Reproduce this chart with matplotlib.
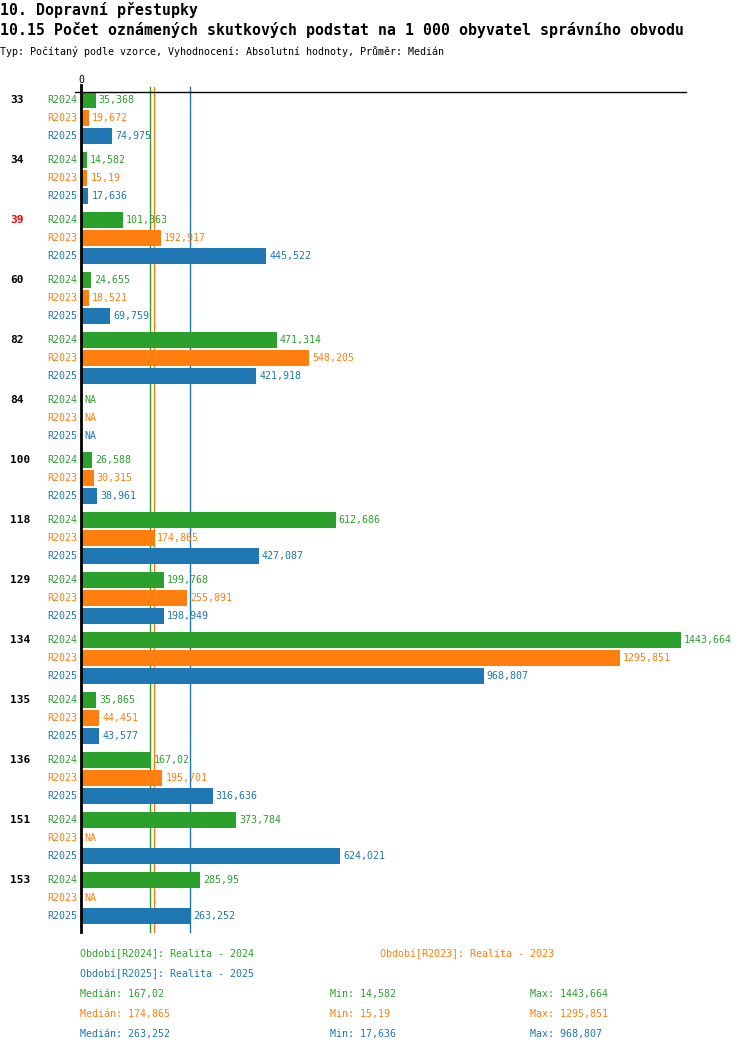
import numpy as np
import matplotlib
matplotlib.use("Agg")
import matplotlib.pyplot as plt
import matplotlib.transforms as mtransforms

# ---- data ----
groups = ["33", "34", "39", "60", "82", "84", "100", "118", "129", "134", "135", "136", "151", "153"]
highlight = ["39"]
series = ["R2024", "R2023", "R2025"]
series_names = ["Realita - 2024", "Realita - 2023", "Realita - 2025"]
r2024 = [35.368, 14.582, 101.363, 24.655, 471.314, np.nan, 26.588, 612.686, 199.768, 1443.664, 35.865, 167.02, 373.784, 285.95]
r2023 = [19.672, 15.19, 192.917, 18.521, 548.205, np.nan, 30.315, 174.865, 255.891, 1295.851, 44.451, 195.701, np.nan, np.nan]
r2025 = [74.975, 17.636, 445.522, 69.759, 421.918, np.nan, 38.961, 427.087, 198.949, 968.807, 43.577, 316.636, 624.021, 263.252]
values = [r2024, r2023, r2025]
colors = ["#2ca02c", "#ff7f0e", "#1f77b4"]

title1 = "10. Dopravní přestupky"
title2 = "10.15 Počet oznámených skutkových podstat na 1 000 obyvatel správního obvodu"
title3 = "Typ: Počítaný podle vzorce, Vyhodnocení: Absolutní hodnoty, Průměr: Medián"

FONT = "DejaVu Sans Mono"
plt.rcParams["font.family"] = [FONT, "DejaVu Sans"]

W, H = 750, 1052
fig = plt.figure(figsize=(W / 100, H / 100), dpi=100)

def fx(x):
    return x / W

def fy(y):
    return 1 - y / H

def fmt(v):
    return repr(float(v)).rstrip("0").rstrip(".").replace(".", ",")

# axes area in pixels
left, right, top, bottom = 81, 685, 92, 932
ax = fig.add_axes([fx(left), fy(bottom), fx(right - left), (bottom - top) / H])
vmax = np.nanmax(np.array(values, dtype=float))
ax.set_xlim(0, vmax * (right - left) / 600.0)
group_step, bar_step = 60, 18
ax.set_ylim(bottom - 100, top - 100)
ax.axis("off")

dots_off = mtransforms.offset_copy(ax.transData, fig=fig, x=3, y=0, units="dots")
label_tr = mtransforms.blended_transform_factory(fig.transFigure, ax.transData)

fs = 7.2
for gi, g in enumerate(groups):
    ybase = gi * group_step
    ax.text(fx(10), ybase, g, transform=label_tr, fontsize=8, fontweight="bold",
            color="#ff0000" if g in highlight else "black", va="center", ha="left")
    for si, s in enumerate(series):
        y = ybase + si * bar_step
        v = values[si][gi]
        ax.text(fx(77.5), y, s, transform=label_tr, fontsize=fs, color=colors[si],
                va="center", ha="right")
        if np.isnan(v):
            ax.text(0, y, "NA", transform=dots_off, fontsize=fs, color=colors[si],
                    va="center", ha="left")
        else:
            ax.barh(y, v, height=16, color=colors[si], left=0, zorder=2)
            ax.text(v, y, fmt(v), transform=dots_off, fontsize=fs, color=colors[si],
                    va="center", ha="left", zorder=3)

# median lines (behind bars)
meds = [np.nanmedian(np.array(v, dtype=float)) for v in values]
for si, m in enumerate(meds):
    ax.plot([m, m], [bottom - 100, top - 5 - 100], color=colors[si], lw=1.0,
            clip_on=False, zorder=1)

# axes lines
fig.add_artist(plt.Line2D([fx(75), fx(686)], [fy(92), fy(92)], color="black", lw=1.0))
fig.add_artist(plt.Line2D([fx(81), fx(81)], [fy(85), fy(932)], color="black", lw=2.0))
fig.text(fx(81), fy(80), "0", fontsize=fs, ha="center", va="center")

# titles
fig.text(fx(0), fy(14.5), title1, fontsize=10.7, fontweight="bold", va="baseline", ha="left")
fig.text(fx(0), fy(35.5), title2, fontsize=10.7, fontweight="bold", va="baseline", ha="left")
fig.text(fx(0), fy(55), title3, fontsize=fs, va="baseline", ha="left")

# legend / stats
fig.text(fx(80), fy(954), f"Období[{series[0]}]: {series_names[0]}", fontsize=fs, color=colors[0], va="center")
fig.text(fx(380), fy(954), f"Období[{series[1]}]: {series_names[1]}", fontsize=fs, color=colors[1], va="center")
fig.text(fx(80), fy(974), f"Období[{series[2]}]: {series_names[2]}", fontsize=fs, color=colors[2], va="center")
for si in range(3):
    arr = np.array(values[si], dtype=float)
    y = 994 + 20 * si
    fig.text(fx(80), fy(y), f"Medián: {fmt(np.nanmedian(arr))}", fontsize=fs, color=colors[si], va="center")
    fig.text(fx(330), fy(y), f"Min: {fmt(np.nanmin(arr))}", fontsize=fs, color=colors[si], va="center")
    fig.text(fx(530), fy(y), f"Max: {fmt(np.nanmax(arr))}", fontsize=fs, color=colors[si], va="center")

fig.savefig("out.png", dpi=100)
